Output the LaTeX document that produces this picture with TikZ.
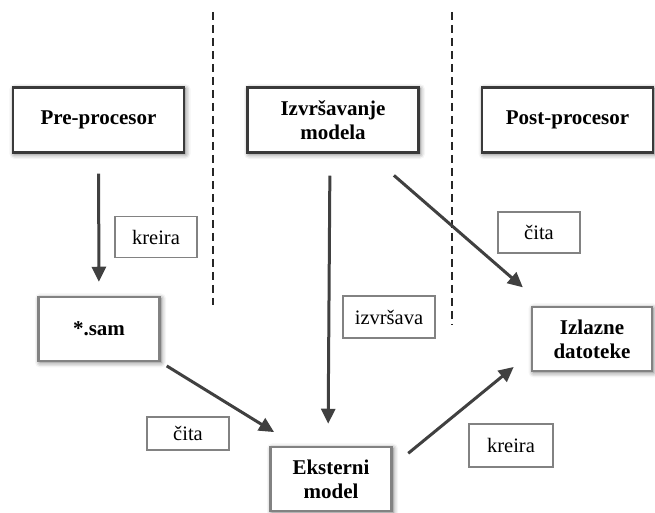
\documentclass[tikz,border=0pt]{standalone}
\usepackage{fontspec}
\setmainfont{Liberation Serif}
\usetikzlibrary{arrows.meta, positioning, calc, shadows.blur}

\definecolor{edgedark}{HTML}{3A3A3A}
\definecolor{edgelight}{HTML}{828282}
\definecolor{arrowgray}{HTML}{404040}

\begin{document}
\begin{tikzpicture}[x=1pt, y=1pt,
    block/.style     = {rectangle, draw=edgedark, line width=2.5pt, fill=white,
                        align=center, minimum width=171pt, minimum height=65pt,
                        font=\fontsize{21}{24}\selectfont\bfseries,
                        blur shadow={shadow xshift=1.5pt, shadow yshift=-1.5pt,
                                     shadow blur radius=5pt, shadow opacity=60}},
    fileblock/.style = {block, draw=edgelight, minimum width=121pt, minimum height=64pt},
    tag/.style       = {rectangle, draw=edgelight, line width=1.8pt, fill=white,
                        minimum width=82pt, minimum height=41pt,
                        font=\fontsize{20.5}{24}\selectfont},
    arrow/.style     = {draw=arrowgray, line width=3pt,
                        -{Triangle[length=15pt, width=14pt]}},
    divider/.style   = {draw=black!85, line width=2.3pt, dash pattern=on 8pt off 5pt}
]
\useasboundingbox (0,0) rectangle (655,513);

% =====================
% Nodes (top row)
% =====================

% Pre-processing stage
\node[block] (pre) at (98.5,393) {Pre-procesor};

% Model execution
\node[block, right=61pt of pre] (exec) {Izvršavanje\\ modela};

% Post-processing stage
\node[block, right=61pt of exec] (post) {Post-procesor};

% ====================================
% Files and model
% ====================================

\node[fileblock] (sam) at (99,184) {*.sam};
\node[fileblock] (ext) at (331,34) {Eksterni\\ model};
\node[fileblock, minimum width=120pt] (out) at (592,174) {Izlazne\\ datoteke};

% Column separators
\coordinate (sepA top) at (213,501);
\coordinate (sepA bot) at (213,208);
\coordinate (sepB top) at (452,501);
\coordinate (sepB bot) at (452,188);
\draw[divider] (sepA top) -- (sepA bot);
\draw[divider] (sepB top) -- (sepB bot);

% ====================================
% Connections
% ====================================

\draw[arrow, shorten <=20pt, shorten >=14pt] (pre) -- (sam);

\draw[arrow, shorten <=22pt, shorten >=22pt]
    ([xshift=-3pt]exec.south) -- ([xshift=-3pt]ext.north);

\draw[arrow, shorten <=33pt, shorten >=28pt]
    ([xshift=36pt]exec.south) -- ([xshift=-48pt]out.north);

\draw[arrow, shorten <=7pt, shorten >=26pt]
    (sam.south east) -- ([xshift=27pt]ext.north west);

\draw[arrow, shorten <=20pt, shorten >=22pt]
    ([yshift=13pt]ext.east) -- ([yshift=-14pt]out.west);

% Edge labels
\node[tag] (createA) at (156,276) {kreira};
\node[tag, minimum height=33pt] (readA) at (188,79.5) {čita};
\node[tag, minimum width=92pt, minimum height=42pt] (runs) at (389,196) {izvršava};
\node[tag] (readB) at (539,280.5) {čita};
\node[tag, minimum width=84pt, minimum height=43pt] (createB) at (511,67.5) {kreira};

\end{tikzpicture}
\end{document}
